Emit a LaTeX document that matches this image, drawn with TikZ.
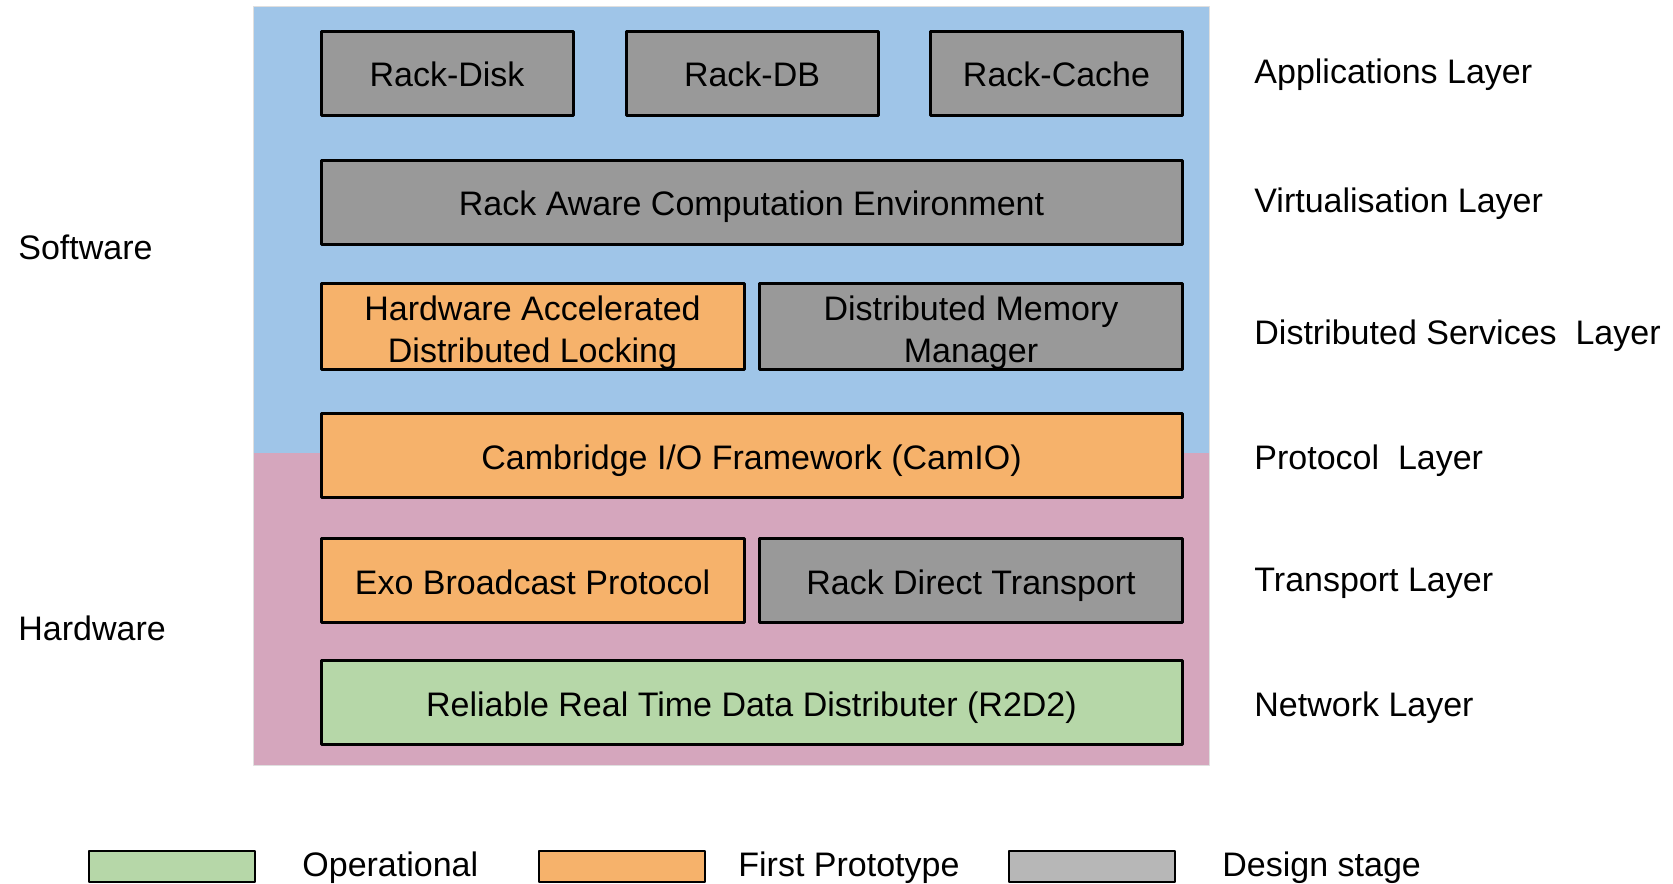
\documentclass[tikz,border=0pt]{standalone}
\usepackage{fontspec}
\setmainfont{Liberation Sans}
\usepackage{xcolor}
\usepackage{tikz}
\usetikzlibrary{positioning}
\definecolor{swblue}{HTML}{9FC5E8}
\definecolor{hwpink}{HTML}{D5A6BD}
\definecolor{opgreen}{HTML}{B6D7A8}
\definecolor{protoorange}{HTML}{F6B26B}
\definecolor{designgray}{HTML}{999999}
\definecolor{keygray}{HTML}{B7B7B7}
\newcommand\hdrstrut{\rule{0pt}{18.5pt}}
\tikzset{%
        block/.style = { draw=black, line width=1.5pt, inner sep=0pt, align=center,
                         minimum height=42pt, font=\fontsize{17}{20.8}\selectfont },
      oneline/.style = { text height=13.5pt, text depth=0pt },
     operated/.style = { block, fill=opgreen },
    prototype/.style = { block, fill=protoorange },
       design/.style = { block, fill=designgray },
         full/.style = { oneline, minimum width=430.5pt },
         half/.style = { minimum width=211.5pt },
          app/.style = { oneline, minimum width=126pt },
        layer/.style = { anchor=west, inner sep=0pt, font=\fontsize{17}{20.8}\selectfont },
       keybox/.style = { draw=black, line width=1pt, minimum width=83pt, minimum height=15.5pt, inner sep=0pt }
}
\begin{document}
\begin{tikzpicture}[x=0.5pt,y=-0.5pt,line join=round]
\useasboundingbox (0,0) rectangle (1673,883);
% background: software / hardware
\fill[swblue] (253,7) rectangle (1209,453);
\fill[hwpink] (253,453) rectangle (1209,765);
\draw[gray!25,line width=0.5pt] (253,7) rectangle (1209,765);
% stack
\node[design,app] (disk) at (447,73.5) {Rack-Disk};
\node[design,app] (db) at (752,73.5) {Rack-DB};
\node[design,app] (cache) at (1056.5,73.5) {Rack-Cache};
\node[design,full] (race) at (751.5,202) {Rack Aware Computation Environment};
\node[prototype,half] (locking) at (532.5,326.5) {\hdrstrut Hardware Accelerated\\Distributed Locking};
\node[design,half] (memory) at (971,326.5) {\hdrstrut Distributed Memory\\Manager};
\node[prototype,full] (camio) at (751.5,455.5) {Cambridge I/O Framework (CamIO)};
\node[prototype,half,oneline] (exo) at (532.5,580.5) {Exo Broadcast Protocol};
\node[design,half,oneline] (direct) at (971,580.5) {Rack Direct Transport};
\node[operated,full] (rtwod) at (751.5,702.5) {Reliable Real Time Data Distributer (R2D2)};
% layers
\node[layer] (applayer) at (1254,74.7) {Applications Layer};
\node[layer] (virtlayer) at (1254,203.8) {Virtualisation Layer};
\node[layer] (servlayer) at (1254,336.2) {Distributed Services\ \ Layer};
\node[layer] (protlayer) at (1254,460.9) {Protocol\ \ Layer};
\node[layer] (translayer) at (1254,583.6) {Transport Layer};
\node[layer] (netlayer) at (1254,708) {Network Layer};
\node[layer] (software) at (18,247.5) {Software};
\node[layer] (hardware) at (18,628) {Hardware};
% legend
\node[keybox,fill=opgreen] (opkey) at (171.5,866) {};
\node[keybox,fill=protoorange] (protokey) at (622,866) {};
\node[keybox,fill=keygray] (designkey) at (1092,866) {};
\node[layer] (optext) at (302,868) {Operational};
\node[layer] (prototext) at (738,868) {First Prototype};
\node[layer] (designtext) at (1222,868) {Design stage};
\end{tikzpicture}
\end{document}
